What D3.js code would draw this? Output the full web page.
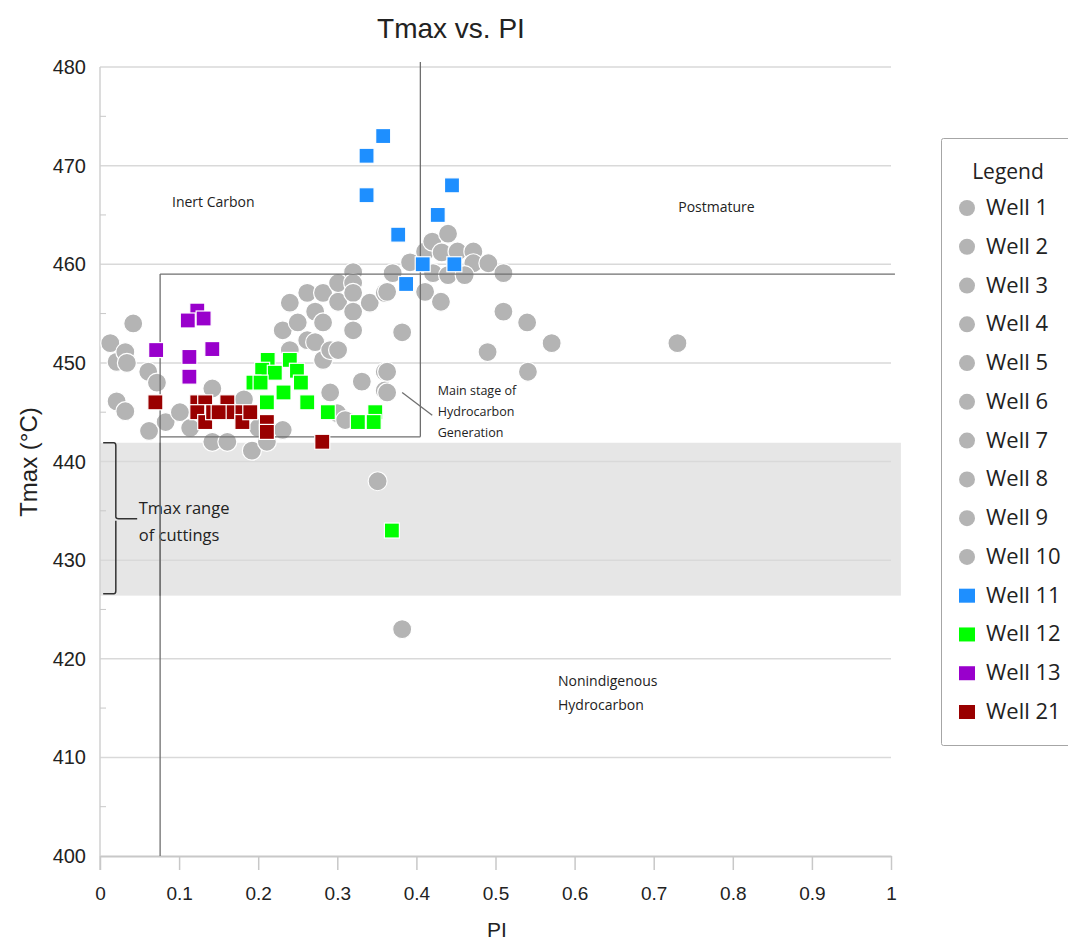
<!DOCTYPE html>
<html lang="en">
<head>
  <meta charset="UTF-8">
  <title>Tmax vs. PI</title>
  <script src="https://d3js.org/d3.v7.min.js"></script>
  <style>
    body {
      margin: 0;
      background: #fff;
    }
    .sans {
      font-family: "Liberation Sans", Arial, sans-serif;
      fill: #222;
    }
    .note {
      font-family: "Open Sans", "Noto Sans", sans-serif;
      fill: #222;
    }
  </style>
</head>
<body>
  <div id="chart"></div>

  <script>
    const width = 1068, height = 943;

    // Wells 1-10 (all drawn as grey circles) : [PI, Tmax]
    const greyWells = [
      [0.013, 452.0], [0.021, 450.1], [0.032, 451.1], [0.042, 454.0], [0.034, 450.0],
      [0.061, 449.1], [0.072, 448.0], [0.021, 446.1], [0.032, 445.1], [0.062, 443.1],
      [0.083, 444.0], [0.101, 445.0], [0.142, 447.4], [0.142, 442.0], [0.161, 442.0],
      [0.182, 446.3], [0.192, 441.1], [0.211, 442.0], [0.114, 443.4], [0.231, 443.2],
      [0.240, 451.3], [0.231, 453.3], [0.240, 456.1], [0.250, 454.1], [0.262, 457.1],
      [0.262, 452.3], [0.272, 455.2], [0.272, 452.1], [0.282, 457.1], [0.282, 454.1],
      [0.282, 450.3], [0.291, 451.3], [0.301, 451.3], [0.301, 456.2], [0.301, 458.1],
      [0.320, 459.2], [0.320, 458.1], [0.320, 457.1], [0.320, 455.2], [0.320, 453.3],
      [0.341, 456.1], [0.360, 457.1], [0.331, 448.1], [0.360, 449.1], [0.360, 447.2],
      [0.291, 447.0], [0.300, 444.9], [0.310, 444.2], [0.382, 453.1], [0.370, 459.1],
      [0.392, 460.2], [0.411, 461.3], [0.420, 462.3], [0.440, 463.1], [0.432, 461.2],
      [0.452, 461.3], [0.472, 461.3], [0.472, 460.1], [0.491, 460.1], [0.421, 459.1],
      [0.440, 458.9], [0.461, 458.9], [0.510, 459.1], [0.363, 457.2], [0.411, 457.2],
      [0.431, 456.2], [0.510, 455.2], [0.540, 454.1], [0.571, 452.0], [0.730, 452.0],
      [0.490, 451.1], [0.541, 449.1], [0.363, 449.1], [0.363, 447.0], [0.351, 438.0],
      [0.382, 423.0], [0.200, 443.4]
    ];

    const well11 = [
      [0.337, 471.0], [0.358, 473.0], [0.337, 467.0], [0.377, 463.0], [0.427, 465.0],
      [0.445, 468.0], [0.408, 460.0], [0.448, 460.0], [0.387, 458.0]
    ];

    const well12 = [
      [0.212, 450.3], [0.240, 450.3], [0.205, 449.3], [0.221, 449.0], [0.249, 449.2],
      [0.194, 448.0], [0.203, 448.0], [0.254, 448.0], [0.232, 447.0], [0.211, 446.0],
      [0.262, 446.0], [0.288, 445.0], [0.326, 444.0], [0.348, 445.0], [0.346, 444.0],
      [0.369, 433.0]
    ];

    const well13 = [
      [0.123, 455.3], [0.111, 454.3], [0.131, 454.5], [0.071, 451.3], [0.142, 451.4],
      [0.113, 450.6], [0.113, 448.6]
    ];

    const well21 = [
      [0.070, 446.0], [0.123, 446.0], [0.133, 446.0], [0.123, 445.0], [0.133, 444.0],
      [0.143, 445.0], [0.161, 446.0], [0.162, 445.0], [0.150, 445.0], [0.180, 445.0],
      [0.180, 444.0], [0.190, 445.0], [0.211, 444.0], [0.211, 443.0], [0.281, 442.0]
    ];

    const legendNames = ["Well 1", "Well 2", "Well 3", "Well 4", "Well 5", "Well 6", "Well 7",
      "Well 8", "Well 9", "Well 10", "Well 11", "Well 12", "Well 13", "Well 21"];
    const xTicks = [0, 0.1, 0.2, 0.3, 0.4, 0.5, 0.6, 0.7, 0.8, 0.9, 1];
    const yTicks = [400, 410, 420, 430, 440, 450, 460, 470, 480];

    const grey = "#b4b4b4";
    const squareColors = { "Well 11": "#1e8fff", "Well 12": "#00ff00", "Well 13": "#9900cc", "Well 21": "#990000" };

    const svg = d3.select("#chart").append("svg")
        .attr("width", width)
        .attr("height", height);

    const x = d3.scaleLinear().domain([0, 1]).range([100, 891]);
    const y = d3.scaleLinear().domain([400, 480]).range([856, 67]);

    // cuttings band
    svg.append("rect")
      .attr("x", x(0))
      .attr("y", y(441.9))
      .attr("width", x(1.0125) - x(0))
      .attr("height", y(426.4) - y(441.9))
      .attr("fill", "#e6e6e6");

    // gridlines
    svg.append("g")
      .selectAll("line")
      .data(yTicks.filter(d => d > 400))
      .join("line")
      .attr("x1", x(0)).attr("x2", x(1))
      .attr("y1", d => y(d)).attr("y2", d => y(d))
      .attr("stroke", "#d9d9d9")
      .attr("stroke-width", 1.5);

    // left axis + minor ticks
    svg.append("line")
      .attr("x1", x(0)).attr("x2", x(0))
      .attr("y1", y(480)).attr("y2", y(400) + 14)
      .attr("stroke", "#d0d0d0").attr("stroke-width", 1.5);
    svg.append("g")
      .selectAll("line")
      .data(d3.range(405, 480, 10))
      .join("line")
      .attr("x1", x(0)).attr("x2", x(0) + 6)
      .attr("y1", d => y(d)).attr("y2", d => y(d))
      .attr("stroke", "#c8c8c8");

    // x axis
    const xAxis = d3.axisBottom(x)
      .tickValues(xTicks)
      .tickSize(14)
      .tickSizeOuter(0)
      .tickPadding(17)
      .tickFormat(d => d3.format("~g")(d));
    const gx = svg.append("g")
      .attr("transform", `translate(0,${y(400)})`)
      .call(xAxis);
    gx.select(".domain").attr("stroke", "#c8c8c8").attr("stroke-width", 2);
    gx.selectAll(".tick line").attr("stroke", "#c8c8c8").attr("stroke-width", 1.5);
    gx.selectAll(".tick text")
      .attr("font-size", 19)
      .attr("fill", "#222")
      .attr("font-family", "Liberation Sans, Arial, sans-serif");

    // y tick labels
    svg.append("g")
      .selectAll("text")
      .data(yTicks)
      .join("text")
      .attr("class", "sans")
      .attr("x", 86)
      .attr("y", d => y(d) + 7)
      .attr("text-anchor", "end")
      .attr("font-size", 20)
      .text(d => d);

    // title and axis labels
    svg.append("text")
      .attr("class", "sans")
      .attr("x", 451).attr("y", 38)
      .attr("text-anchor", "middle")
      .attr("font-size", 28)
      .text("Tmax vs. PI");

    svg.append("text")
      .attr("class", "sans")
      .attr("x", 497).attr("y", 937)
      .attr("text-anchor", "middle")
      .attr("font-size", 21)
      .text("PI");

    svg.append("text")
      .attr("class", "sans")
      .attr("transform", "translate(37,462) rotate(-90)")
      .attr("text-anchor", "middle")
      .attr("font-size", 24)
      .text("Tmax (°C)");

    // grey wells
    svg.append("g")
      .selectAll("circle")
      .data(greyWells)
      .join("circle")
      .attr("cx", d => x(d[0]))
      .attr("cy", d => y(d[1]))
      .attr("r", 9.5)
      .attr("fill", grey)
      .attr("stroke", "#fff")
      .attr("stroke-width", 1.2);

    // maturity boxes
    const boxLines = [
      [[0.405, 480.5], [0.405, 442.5]],
      [[0.076, 459], [0.076, 400]],
      [[0.076, 459], [1.005, 459]],
      [[0.076, 442.5], [0.405, 442.5]],
      [[0.382, 447.0], [0.420, 444.7]]
    ];
    svg.append("g")
      .selectAll("line")
      .data(boxLines)
      .join("line")
      .attr("x1", d => x(d[0][0])).attr("y1", d => y(d[0][1]))
      .attr("x2", d => x(d[1][0])).attr("y2", d => y(d[1][1]))
      .attr("stroke", "#6f6f6f")
      .attr("stroke-width", 1.3);

    // bracket for cuttings range
    const bx0 = x(0.004), bx1 = x(0.020), bx2 = x(0.047);
    const bTop = y(441.9), bBot = y(426.6), bMid = y(434.2);
    svg.append("path")
      .attr("d", `M${bx0},${bTop} L${bx1 - 2},${bTop} Q${bx1},${bTop} ${bx1},${bTop + 3}
                  L${bx1},${bMid - 2} Q${bx1},${bMid} ${bx1 + 3},${bMid} L${bx2},${bMid}
                  M${bx1},${bMid + 2} L${bx1},${bBot - 3} Q${bx1},${bBot} ${bx1 - 2},${bBot} L${bx0},${bBot}`)
      .attr("fill", "none")
      .attr("stroke", "#333")
      .attr("stroke-width", 1.5);

    // squares
    const squareSeries = [
      { name: "Well 11", values: well11 },
      { name: "Well 12", values: well12 },
      { name: "Well 13", values: well13 },
      { name: "Well 21", values: well21 }
    ];
    const sq = 15;
    squareSeries.forEach(s => {
      svg.append("g")
        .selectAll("rect")
        .data(s.values)
        .join("rect")
        .attr("x", d => x(d[0]) - sq / 2)
        .attr("y", d => y(d[1]) - sq / 2)
        .attr("width", sq)
        .attr("height", sq)
        .attr("fill", squareColors[s.name])
        .attr("stroke", "#fff")
        .attr("stroke-width", 1.2);
    });

    // annotations
    const notes = [
      { lines: ["Inert Carbon"], px: 0.091, t: 465.8, size: 14, gap: 0 },
      { lines: ["Postmature"], px: 0.731, t: 465.3, size: 14, gap: 0 },
      { lines: ["Main stage of", "Hydrocarbon", "Generation"], px: 0.427, t: 446.7, size: 12.5, gap: 21 },
      { lines: ["Nonindigenous", "Hydrocarbon"], px: 0.579, t: 417.2, size: 14, gap: 24 },
      { lines: ["Tmax range", "of cuttings"], px: 0.049, t: 434.7, size: 16.5, gap: 27 }
    ];
    notes.forEach(n => {
      const t = svg.append("text")
        .attr("class", "note")
        .attr("font-size", n.size);
      n.lines.forEach((l, i) => {
        t.append("tspan")
          .attr("x", x(n.px))
          .attr("y", y(n.t) + i * n.gap)
          .text(l);
      });
    });

    // redraw the cuttings-box vertical over the cuttings text
    svg.append("line")
      .attr("x1", x(0.076)).attr("x2", x(0.076))
      .attr("y1", y(441.9)).attr("y2", y(426.4))
      .attr("stroke", "#6f6f6f").attr("stroke-width", 1.3);

    // legend
    const legend = svg.append("g").attr("transform", "translate(941,138)");
    legend.append("rect")
      .attr("x", 0.5).attr("y", 0.5)
      .attr("width", 140).attr("height", 607)
      .attr("rx", 2)
      .attr("fill", "#fff")
      .attr("stroke", "#a6a6a6");
    legend.append("text")
      .attr("class", "note")
      .attr("x", 67).attr("y", 41)
      .attr("text-anchor", "middle")
      .attr("font-size", 21)
      .text("Legend");

    const ly = d3.scalePoint().domain(legendNames).range([70, 574]);
    const items = legend.selectAll(".item")
      .data(legendNames)
      .join("g")
      .attr("transform", d => `translate(0,${ly(d)})`);
    items.each(function(d) {
      const g = d3.select(this);
      if (squareColors[d]) {
        g.append("rect")
          .attr("x", 18).attr("y", -7)
          .attr("width", 16).attr("height", 14)
          .attr("fill", squareColors[d]);
      } else {
        g.append("circle")
          .attr("cx", 26).attr("cy", 0).attr("r", 8)
          .attr("fill", grey);
      }
    });
    items.append("text")
      .attr("class", "note")
      .attr("x", 45).attr("y", 7)
      .attr("font-size", 22)
      .text(d => d);
  </script>
</body>
</html>
